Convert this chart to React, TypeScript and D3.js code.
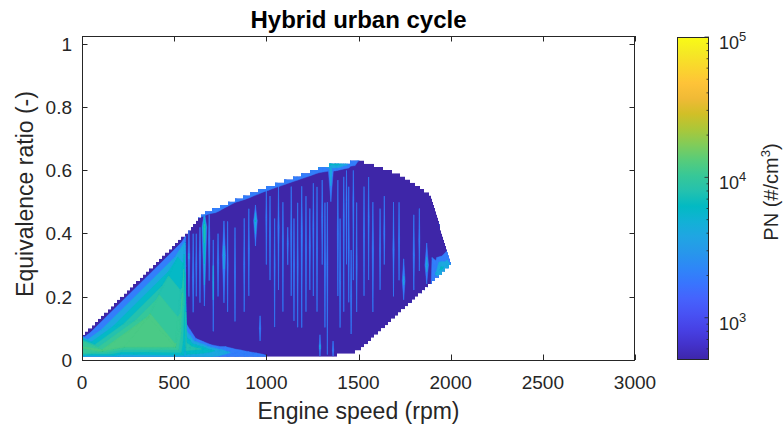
import React from 'react';
import * as d3 from 'd3';

// ---------- layout ----------
const W = 784;
const H = 431;
const M = { left: 82, right: 635, top: 36, bottom: 360 };
const CB = { left: 677, right: 709, top: 37, bottom: 360 };
const FONT = '"Liberation Sans", Arial, Helvetica, sans-serif';
const INK = '#262626';
const PHI_GRID = 0.01; // resolution of the interpolation grid in equivalence ratio

// ---------- axes ----------
const xTicks = [0, 500, 1000, 1500, 2000, 2500, 3000];
const yTicks = [0, 0.2, 0.4, 0.6, 0.8, 1];
const pnTicks = [1e3, 1e4, 1e5];
const pnTickExp = ['3', '4', '5'];
const pnMinorTicks = [600, 700, 800, 900, 2000, 3000, 4000, 5000, 6000, 7000, 8000, 9000,
  20000, 30000, 40000, 50000, 60000, 70000, 80000, 90000];

// contour levels of PN (#/cm3)
const levels = [2000, 4000, 6000, 8000, 10000, 12000];

// operating envelope of the cycle: upper and lower limits of equivalence ratio vs engine speed
const upperRpm = [0, 586, 657, 787, 982, 1167, 1308, 1384, 1492, 1552, 1601, 1725, 1888, 2008];
const upperPhi = [0.08, 0.417, 0.468, 0.499, 0.547, 0.585, 0.616, 0.626, 0.632, 0.629, 0.616, 0.591, 0.528, 0.3];
const lowerRpm = [0, 1373, 1498, 2008];
const lowerPhi = [0.009, 0.009, 0.022, 0.3];

// measured samples: [speed rpm, equivalence ratio, PN #/cm3]
// low-speed / idle operation
const idleSamples: [number, number, number][] = [
  [0, 0.009, 3800], [0, 0.022, 10500], [0, 0.04, 12300], [0, 0.06, 10000], [0, 0.08, 500],
  [110, 0.03, 12400], [230, 0.042, 12300], [360, 0.135, 12400], [505, 0.042, 12200],
  [530, 0.1, 11200], [550, 0.25, 9600], [557, 0.37, 4500], [200, 0.009, 3800],
];

// driving operation, grouped by speed
const cruiseSamples: [number, number, number][] = [
  [565, 0.009, 4600], [565, 0.04, 9800], [565, 0.12, 1600], [565, 0.26, 900], [565, 0.405, 500],
  [586, 0.009, 4500], [586, 0.038, 9200], [586, 0.1, 1500], [586, 0.25, 900], [586, 0.417, 800],
  [620, 0.009, 4400], [620, 0.036, 8600], [620, 0.07, 1500], [620, 0.25, 900], [620, 0.42, 900], [620, 0.441, 1500],
  [657, 0.009, 4300], [657, 0.034, 7800], [657, 0.06, 1700], [657, 0.25, 900], [657, 0.44, 800], [657, 0.468, 3200],
  [700, 0.009, 4000], [700, 0.03, 6600], [700, 0.05, 1600], [700, 0.25, 900], [700, 0.45, 800], [700, 0.478, 3400],
  [745, 0.009, 3700], [745, 0.028, 5200], [745, 0.045, 1500], [745, 0.25, 900], [745, 0.455, 800], [745, 0.489, 3400],
  [787, 0.009, 3400], [787, 0.025, 4300], [787, 0.045, 1400], [787, 0.25, 900], [787, 0.47, 800], [787, 0.499, 3200],
  [830, 0.009, 3100], [830, 0.022, 3600], [830, 0.04, 1300], [830, 0.25, 900], [830, 0.483, 800], [830, 0.51, 3000],
  [880, 0.009, 2800], [880, 0.02, 3000], [880, 0.036, 1200], [880, 0.25, 900], [880, 0.492, 800], [880, 0.522, 3300],
  [930, 0.009, 2500], [930, 0.018, 2600], [930, 0.032, 1100], [930, 0.25, 900], [930, 0.503, 800], [930, 0.534, 3300],
  [982, 0.009, 2100], [982, 0.016, 2200], [982, 0.028, 1000], [982, 0.25, 900], [982, 0.515, 800], [982, 0.547, 3300],
  [1040, 0.009, 1600], [1040, 0.25, 900], [1040, 0.527, 800], [1040, 0.559, 3300],
  [1100, 0.009, 1200], [1100, 0.25, 900], [1100, 0.539, 800], [1100, 0.571, 3300],
  [1167, 0.009, 1000], [1167, 0.25, 900], [1167, 0.553, 800], [1167, 0.585, 3400],
  [1240, 0.009, 1000], [1240, 0.25, 900], [1240, 0.568, 800], [1240, 0.6, 3500],
  [1308, 0.009, 1000], [1308, 0.25, 900], [1308, 0.584, 900], [1308, 0.616, 4500],
  [1345, 0.009, 1000], [1345, 0.25, 900], [1345, 0.59, 1200], [1345, 0.621, 7000],
  [1373, 0.009, 1000], [1373, 0.25, 900], [1373, 0.594, 1300], [1373, 0.625, 8000],
  [1384, 0.012, 1000], [1384, 0.25, 900], [1384, 0.596, 1400], [1384, 0.626, 8500],
  [1420, 0.015, 1000], [1420, 0.25, 900], [1420, 0.6, 1200], [1420, 0.628, 7000],
  [1455, 0.018, 1000], [1455, 0.25, 900], [1455, 0.602, 900], [1455, 0.63, 4000],
  [1498, 0.022, 900], [1498, 0.25, 900], [1498, 0.605, 800], [1498, 0.632, 2200],
  [1552, 0.052, 900], [1552, 0.3, 900], [1552, 0.629, 1000],
  [1601, 0.078, 900], [1601, 0.3, 900], [1601, 0.616, 900],
  [1660, 0.11, 900], [1660, 0.3, 900], [1660, 0.604, 900],
  [1725, 0.146, 900], [1725, 0.3, 900], [1725, 0.591, 900],
  [1800, 0.187, 900], [1800, 0.35, 900], [1800, 0.562, 900],
  [1888, 0.235, 1500], [1888, 0.35, 900], [1888, 0.528, 900],
  [1920, 0.252, 3200], [1920, 0.272, 4200], [1920, 0.33, 1200], [1920, 0.46, 900],
  [1950, 0.268, 4200], [1950, 0.29, 6500], [1950, 0.33, 1800], [1950, 0.41, 1300],
  [1980, 0.285, 4000], [1980, 0.3, 5200], [1980, 0.352, 1500],
  [2008, 0.3, 3600],
];

// short PN bursts: [speed rpm, phi low, phi at peak, phi high, peak PN, speed half-spread rpm]
const bursts: [number, number, number, number, number, number][] = [
  [580, 0.2, 0.33, 0.41, 4200, 5], [603, 0.15, 0.26, 0.4, 3600, 4], [620, 0.2, 0.3, 0.4, 3000, 3],
  [640, 0.18, 0.33, 0.42, 3400, 4], [664, 0.17, 0.42, 0.47, 9500, 13], [690, 0.25, 0.38, 0.46, 3500, 4],
  [712, 0.09, 0.25, 0.38, 5200, 3], [738, 0.2, 0.31, 0.4, 3400, 4], [770, 0.18, 0.33, 0.44, 4800, 9],
  [790, 0.15, 0.3, 0.44, 2700, 3], [830, 0.12, 0.28, 0.42, 2900, 3], [880, 0.15, 0.3, 0.45, 2600, 3],
  [905, 0.2, 0.35, 0.48, 2600, 3], [941, 0.36, 0.44, 0.49, 6200, 10], [966, 0.06, 0.1, 0.14, 3200, 4],
  [1000, 0.3, 0.45, 0.54, 3000, 3], [1020, 0.25, 0.4, 0.52, 2600, 3], [1045, 0.1, 0.3, 0.45, 2500, 3],
  [1066, 0.22, 0.42, 0.55, 3600, 4], [1090, 0.15, 0.38, 0.5, 2800, 3], [1116, 0.3, 0.37, 0.42, 2900, 3],
  [1135, 0.2, 0.4, 0.55, 2700, 3], [1150, 0.12, 0.3, 0.45, 2500, 3], [1170, 0.1, 0.3, 0.5, 2600, 3],
  [1192, 0.1, 0.4, 0.55, 3300, 4], [1215, 0.15, 0.35, 0.52, 2800, 3], [1236, 0.22, 0.36, 0.48, 3000, 3],
  [1255, 0.2, 0.42, 0.56, 3000, 3], [1275, 0.15, 0.35, 0.55, 2700, 3], [1291, 0.012, 0.04, 0.08, 4600, 5],
  [1303, 0.3, 0.45, 0.57, 3100, 3], [1318, 0.1, 0.3, 0.5, 2700, 3], [1331, 0.015, 0.3, 0.5, 3300, 3],
  [1350, 0.5, 0.6, 0.625, 6000, 14], [1362, 0.012, 0.03, 0.06, 3600, 4], [1388, 0.2, 0.4, 0.57, 3000, 3],
  [1400, 0.1, 0.25, 0.45, 2600, 3], [1420, 0.15, 0.45, 0.58, 3200, 3], [1435, 0.3, 0.5, 0.6, 2900, 3],
  [1447, 0.18, 0.35, 0.55, 2800, 3], [1460, 0.08, 0.2, 0.35, 2600, 3], [1472, 0.25, 0.5, 0.6, 3100, 3],
  [1490, 0.15, 0.3, 0.5, 2800, 3], [1530, 0.2, 0.4, 0.55, 2700, 3], [1555, 0.25, 0.45, 0.58, 2700, 3],
  [1578, 0.15, 0.35, 0.5, 3200, 4], [1617, 0.22, 0.35, 0.48, 2800, 3], [1640, 0.3, 0.4, 0.52, 2600, 3],
  [1690, 0.2, 0.35, 0.5, 3600, 4], [1720, 0.25, 0.38, 0.5, 2700, 3], [1745, 0.19, 0.25, 0.32, 4600, 8],
  [1800, 0.22, 0.33, 0.46, 3200, 4], [1830, 0.28, 0.38, 0.48, 2800, 3], [1870, 0.24, 0.3, 0.37, 5200, 10],
];

// parula colour map
const parulaStops: [number, number, number][] = [
  [0.2422, 0.1504, 0.6603], [0.2647, 0.1978, 0.7952], [0.2783, 0.2559, 0.8991], [0.281, 0.3228, 0.9579],
  [0.2699, 0.3892, 0.9906], [0.2206, 0.4603, 0.9973], [0.1786, 0.5289, 0.9682], [0.154, 0.5902, 0.9218],
  [0.1248, 0.6459, 0.8883], [0.0689, 0.6948, 0.8394], [0.0067, 0.7312, 0.766], [0.1408, 0.7584, 0.6842],
  [0.2161, 0.7843, 0.5923], [0.3406, 0.8008, 0.4789], [0.5044, 0.7993, 0.348], [0.672, 0.7793, 0.2227],
  [0.8203, 0.7498, 0.1535], [0.9393, 0.7288, 0.21], [0.997, 0.7659, 0.2199], [0.9786, 0.8386, 0.1766],
  [0.9597, 0.9135, 0.1423], [0.9769, 0.9839, 0.0805],
];

const stopT = parulaStops.map((_, i) => i / (parulaStops.length - 1));
const stopColor = parulaStops.map(([r, g, b]) => d3.rgb(r * 255, g * 255, b * 255).formatHex());
const parula = d3.scaleLinear<string>().domain(stopT).range(stopColor).interpolate(d3.interpolateRgb);
const pnToT = d3.scaleLog().domain([500, 1e5]).range([0, 1]).clamp(true);
const pnColor = (v: number) => parula(pnToT(v));

type Vtx = { px: number; py: number; v: number };

// keep the part of a linear-valued polygon where value >= level
function clipAbove(poly: Vtx[], level: number): Vtx[] {
  const out: Vtx[] = [];
  for (let i = 0; i < poly.length; i++) {
    const a = poly[i];
    const b = poly[(i + 1) % poly.length];
    const ain = a.v >= level;
    const bin = b.v >= level;
    if (ain) out.push(a);
    if (ain !== bin) {
      const t = (level - a.v) / (b.v - a.v);
      out.push({ px: a.px + t * (b.px - a.px), py: a.py + t * (b.py - a.py), v: level });
    }
  }
  return out;
}

const polyPath = (p: Vtx[]) => 'M' + p.map((q) => `${q.px.toFixed(2)},${q.py.toFixed(2)}`).join('L') + 'Z';

export default function App() {
  const x = d3.scaleLinear().domain([0, 3000]).range([M.left, M.right]);
  const y = d3.scaleLinear().domain([0, 1.0237]).range([M.bottom, M.top]);
  const cbY = d3.scaleLog().domain([500, 1e5]).range([CB.bottom, CB.top]);

  const samples = [...idleSamples, ...cruiseSamples];
  // triangulate in data units, as a scattered-data interpolant does
  const delaunay = d3.Delaunay.from(samples, (d) => d[0], (d) => d[1]);
  const tri = delaunay.triangles;
  const vtx = (r: number, phi: number, v: number): Vtx => ({ px: x(r), py: y(phi), v });

  const triangles: Vtx[][] = [];
  for (let i = 0; i < tri.length; i += 3) {
    triangles.push([tri[i], tri[i + 1], tri[i + 2]].map((k) => vtx(samples[k][0], samples[k][1], samples[k][2])));
  }
  // each burst is a local peak fading to just under the lowest level
  const edgeValue = levels[0] - 10;
  bursts.forEach(([r, lo, pk, hi, v, hw]) => {
    const P = vtx(r, pk, v);
    const A = vtx(r, hi, edgeValue);
    const B = vtx(r + hw, pk, edgeValue);
    const C = vtx(r, lo, edgeValue);
    const D = vtx(r - hw, pk, edgeValue);
    triangles.push([P, A, B], [P, B, C], [P, C, D], [P, D, A]);
  });

  const bands = levels.map((level) => {
    let d = '';
    triangles.forEach((t) => {
      const part = clipAbove(t, level);
      if (part.length >= 3) d += polyPath(part);
    });
    return { level, d, color: pnColor(level) };
  });

  // envelope on the interpolation grid: one pixel column at a time, rows snapped to PHI_GRID
  const upper = d3.scaleLinear().domain(upperRpm).range(upperPhi);
  const lower = d3.scaleLinear().domain(lowerRpm).range(lowerPhi);
  const x0 = Math.round(x(upperRpm[0]));
  const x1 = Math.round(x(upperRpm[upperRpm.length - 1]));
  const topEdge: [number, number][] = [];
  const bottomEdge: [number, number][] = [];
  for (let px = x0; px < x1; px++) {
    const r = x.invert(px + 0.5);
    const top = Math.floor(upper(r) / PHI_GRID + 1e-6) * PHI_GRID;
    const bot = Math.ceil(lower(r) / PHI_GRID - 1e-6) * PHI_GRID;
    if (top <= bot) continue;
    topEdge.push([px, y(top)], [px + 1, y(top)]);
    bottomEdge.push([px, y(bot)], [px + 1, y(bot)]);
  }
  const envelope = d3.line().curve(d3.curveLinearClosed)([...topEdge, ...bottomEdge.reverse()]) || '';

  const tickLen = 5.5;

  return (
    <svg width={W} height={H} viewBox={`0 0 ${W} ${H}`}
      style={{ position: 'absolute', left: 0, top: 0, background: '#fff' }}
      fontFamily={FONT}>
      <defs>
        <clipPath id="envelope"><path d={envelope} /></clipPath>
        <linearGradient id="pnbar" x1="0" y1="1" x2="0" y2="0">
          {stopColor.map((c, i) => <stop key={i} offset={stopT[i]} stopColor={c} />)}
        </linearGradient>
      </defs>

      <rect x={0} y={0} width={W} height={H} fill="#fff" />

      {/* filled contours */}
      <g clipPath="url(#envelope)">
        <path d={envelope} fill={pnColor(500)} />
        {bands.map((b) => (
          <path key={b.level} d={b.d} fill={b.color} stroke={b.color} strokeWidth={0.4} strokeLinejoin="round" />
        ))}
      </g>

      {/* axes box and ticks */}
      <g stroke={INK} strokeWidth={1} fill="none">
        <rect x={M.left + 0.5} y={M.top + 0.5} width={M.right - M.left - 1} height={M.bottom - M.top} />
        {xTicks.map((t) => (
          <g key={'x' + t}>
            <line x1={Math.round(x(t)) + 0.5} x2={Math.round(x(t)) + 0.5} y1={M.bottom} y2={M.bottom - tickLen} />
            <line x1={Math.round(x(t)) + 0.5} x2={Math.round(x(t)) + 0.5} y1={M.top} y2={M.top + tickLen} />
          </g>
        ))}
        {yTicks.map((t) => (
          <g key={'y' + t}>
            <line x1={M.left} x2={M.left + tickLen} y1={Math.round(y(t)) + 0.5} y2={Math.round(y(t)) + 0.5} />
            <line x1={M.right} x2={M.right - tickLen} y1={Math.round(y(t)) + 0.5} y2={Math.round(y(t)) + 0.5} />
          </g>
        ))}
      </g>

      <g fill={INK} fontSize={19}>
        {xTicks.map((t) => (
          <text key={'xl' + t} x={x(t)} y={389} textAnchor="middle">{t}</text>
        ))}
        {yTicks.map((t) => (
          <text key={'yl' + t} x={72} y={y(t) + 7} textAnchor="end">{t}</text>
        ))}
      </g>

      <text x={(M.left + M.right) / 2} y={419} textAnchor="middle" fontSize={23} fill={INK}>Engine speed (rpm)</text>
      <text transform="translate(33,194) rotate(-90)" textAnchor="middle" fontSize={23} fill={INK}>
        Equivalence ratio (-)
      </text>
      <text x={(M.left + M.right) / 2} y={28} textAnchor="middle" fontSize={24} fontWeight="bold" fill="#000">
        Hybrid urban cycle
      </text>

      {/* colour bar */}
      <rect x={CB.left} y={CB.top} width={CB.right - CB.left} height={CB.bottom - CB.top} fill="url(#pnbar)" />
      <g stroke={INK} strokeWidth={0.8}>
        {pnMinorTicks.map((t) => (
          <line key={'m' + t} x1={CB.right} x2={CB.right - 2.5} y1={cbY(t)} y2={cbY(t)} />
        ))}
        {pnTicks.map((t) => (
          <line key={'M' + t} x1={CB.right} x2={CB.right - 4.5} y1={cbY(t)} y2={cbY(t)} />
        ))}
      </g>
      <rect x={CB.left + 0.5} y={CB.top + 0.5} width={CB.right - CB.left - 1} height={CB.bottom - CB.top - 1}
        fill="none" stroke={INK} strokeWidth={1} />
      <g fill={INK}>
        {pnTicks.map((t, i) => (
          <text key={'cl' + t} x={719} y={cbY(t) + 12} fontSize={18}>
            10<tspan dy={-8} fontSize={13}>{pnTickExp[i]}</tspan>
          </text>
        ))}
      </g>
      <text transform="translate(778,192) rotate(-90)" textAnchor="middle" fontSize={20} fill={INK}>
        PN (#/cm<tspan dy={-8} fontSize={13}>3</tspan><tspan dy={8}>)</tspan>
      </text>
    </svg>
  );
}
